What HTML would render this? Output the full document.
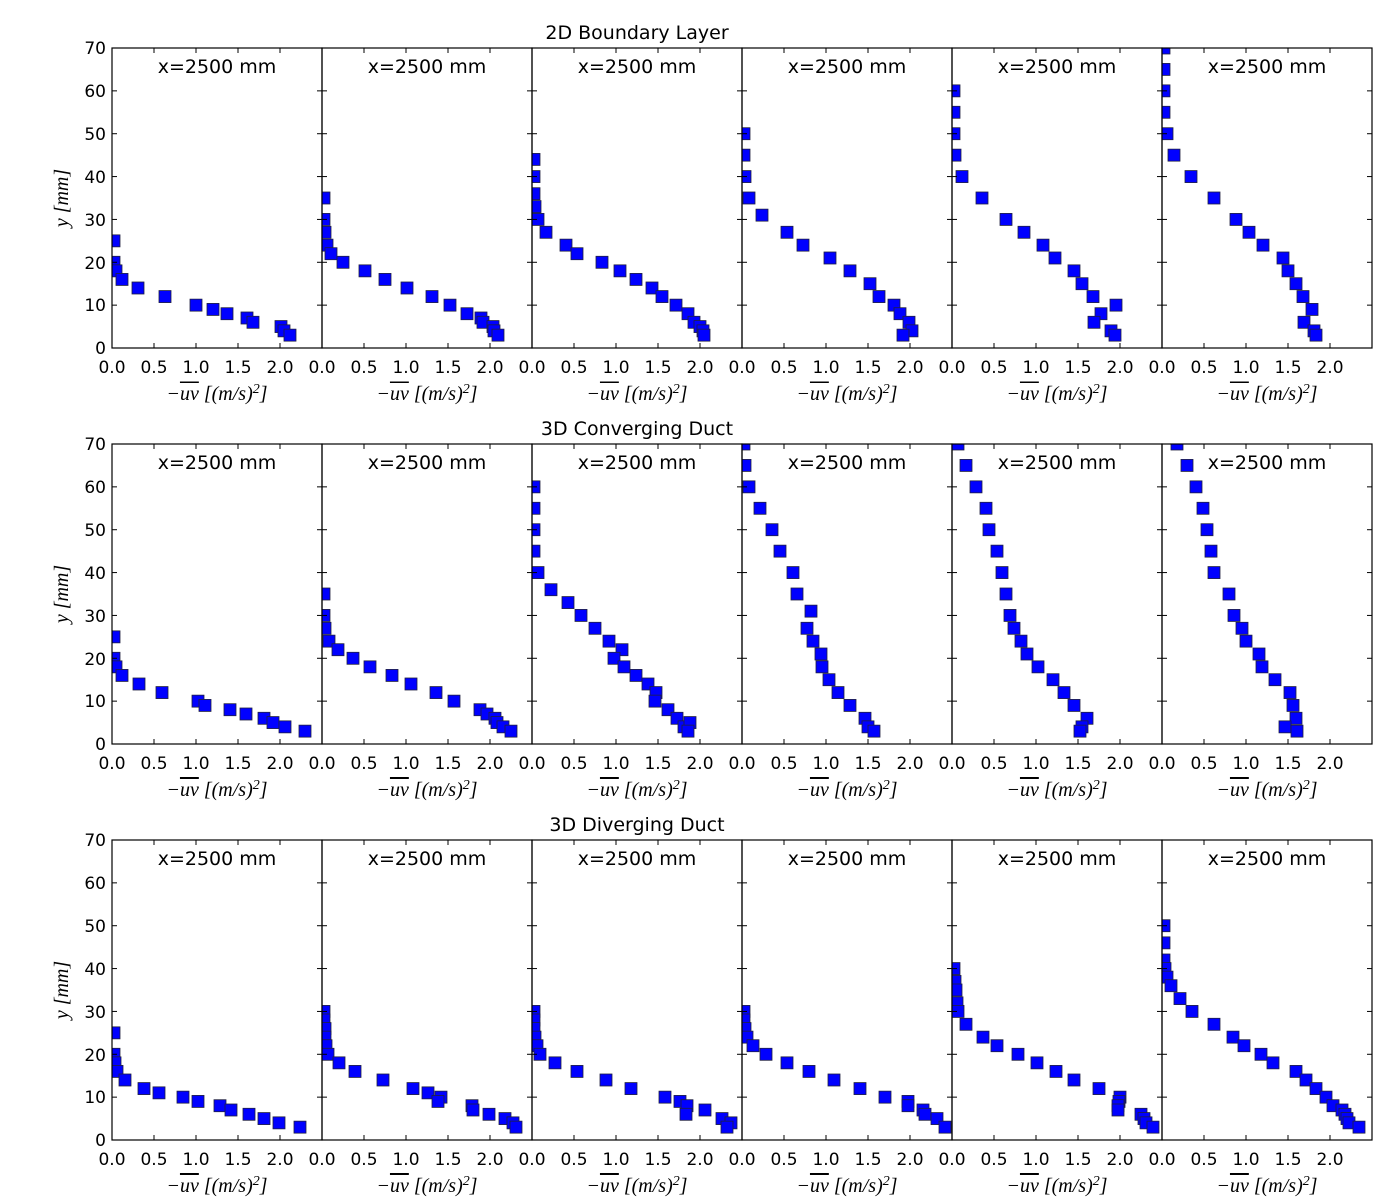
<!DOCTYPE html>
<html><head><meta charset="utf-8"><style>
body{margin:0;background:#fff;}
svg{display:block;font-family:"DejaVu Sans","Liberation Sans",sans-serif;}
.t{font-size:17px;fill:#000;}
.ti{font-size:19px;}
.lab{font-family:"Liberation Serif","DejaVu Serif",serif;font-size:20px;font-style:italic;}
</style></head><body>
<svg id="s" width="1400" height="1200" viewBox="0 0 1400 1200" xmlns="http://www.w3.org/2000/svg">
<rect width="1400" height="1200" fill="#fff"/>
<defs id="defs"></defs>
<g id="marks"></g>
<g class="ti" text-anchor="middle">
<text x="637" y="39">2D Boundary Layer</text>
<text x="637" y="435">3D Converging Duct</text>
<text x="637" y="831">3D Diverging Duct</text>
</g>
<g class="ti" text-anchor="middle">
<text x="217" y="73">x=2500 mm</text><text x="427" y="73">x=2500 mm</text><text x="637" y="73">x=2500 mm</text><text x="847" y="73">x=2500 mm</text><text x="1057" y="73">x=2500 mm</text><text x="1267" y="73">x=2500 mm</text>
<text x="217" y="469">x=2500 mm</text><text x="427" y="469">x=2500 mm</text><text x="637" y="469">x=2500 mm</text><text x="847" y="469">x=2500 mm</text><text x="1057" y="469">x=2500 mm</text><text x="1267" y="469">x=2500 mm</text>
<text x="217" y="865">x=2500 mm</text><text x="427" y="865">x=2500 mm</text><text x="637" y="865">x=2500 mm</text><text x="847" y="865">x=2500 mm</text><text x="1057" y="865">x=2500 mm</text><text x="1267" y="865">x=2500 mm</text>
</g>
<g class="t" text-anchor="end">
<text x="106" y="54">70</text><text x="106" y="97">60</text><text x="106" y="140">50</text><text x="106" y="183">40</text><text x="106" y="226">30</text><text x="106" y="269">20</text><text x="106" y="311">10</text><text x="106" y="354">0</text>
<text x="106" y="450">70</text><text x="106" y="493">60</text><text x="106" y="536">50</text><text x="106" y="579">40</text><text x="106" y="622">30</text><text x="106" y="665">20</text><text x="106" y="707">10</text><text x="106" y="750">0</text>
<text x="106" y="846">70</text><text x="106" y="889">60</text><text x="106" y="932">50</text><text x="106" y="975">40</text><text x="106" y="1018">30</text><text x="106" y="1061">20</text><text x="106" y="1103">10</text><text x="106" y="1146">0</text>
</g>
<g class="lab" text-anchor="middle">
<text transform="translate(68,198) rotate(-90)">y [mm]</text>
<text transform="translate(68,594) rotate(-90)">y [mm]</text>
<text transform="translate(68,990) rotate(-90)">y [mm]</text>
</g>
<g class="t" text-anchor="middle">
<g>
<text x="112" y="373">0.0</text><text x="154" y="373">0.5</text><text x="196" y="373">1.0</text><text x="238" y="373">1.5</text><text x="280" y="373">2.0</text>
<text x="322" y="373">0.0</text><text x="364" y="373">0.5</text><text x="406" y="373">1.0</text><text x="448" y="373">1.5</text><text x="490" y="373">2.0</text>
<text x="532" y="373">0.0</text><text x="574" y="373">0.5</text><text x="616" y="373">1.0</text><text x="658" y="373">1.5</text><text x="700" y="373">2.0</text>
<text x="742" y="373">0.0</text><text x="784" y="373">0.5</text><text x="826" y="373">1.0</text><text x="868" y="373">1.5</text><text x="910" y="373">2.0</text>
<text x="952" y="373">0.0</text><text x="994" y="373">0.5</text><text x="1036" y="373">1.0</text><text x="1078" y="373">1.5</text><text x="1120" y="373">2.0</text>
<text x="1162" y="373">0.0</text><text x="1204" y="373">0.5</text><text x="1246" y="373">1.0</text><text x="1288" y="373">1.5</text><text x="1330" y="373">2.0</text>
</g>
<g transform="translate(0,396)">
<text x="112" y="373">0.0</text><text x="154" y="373">0.5</text><text x="196" y="373">1.0</text><text x="238" y="373">1.5</text><text x="280" y="373">2.0</text>
<text x="322" y="373">0.0</text><text x="364" y="373">0.5</text><text x="406" y="373">1.0</text><text x="448" y="373">1.5</text><text x="490" y="373">2.0</text>
<text x="532" y="373">0.0</text><text x="574" y="373">0.5</text><text x="616" y="373">1.0</text><text x="658" y="373">1.5</text><text x="700" y="373">2.0</text>
<text x="742" y="373">0.0</text><text x="784" y="373">0.5</text><text x="826" y="373">1.0</text><text x="868" y="373">1.5</text><text x="910" y="373">2.0</text>
<text x="952" y="373">0.0</text><text x="994" y="373">0.5</text><text x="1036" y="373">1.0</text><text x="1078" y="373">1.5</text><text x="1120" y="373">2.0</text>
<text x="1162" y="373">0.0</text><text x="1204" y="373">0.5</text><text x="1246" y="373">1.0</text><text x="1288" y="373">1.5</text><text x="1330" y="373">2.0</text>
</g>
<g transform="translate(0,792)">
<text x="112" y="373">0.0</text><text x="154" y="373">0.5</text><text x="196" y="373">1.0</text><text x="238" y="373">1.5</text><text x="280" y="373">2.0</text>
<text x="322" y="373">0.0</text><text x="364" y="373">0.5</text><text x="406" y="373">1.0</text><text x="448" y="373">1.5</text><text x="490" y="373">2.0</text>
<text x="532" y="373">0.0</text><text x="574" y="373">0.5</text><text x="616" y="373">1.0</text><text x="658" y="373">1.5</text><text x="700" y="373">2.0</text>
<text x="742" y="373">0.0</text><text x="784" y="373">0.5</text><text x="826" y="373">1.0</text><text x="868" y="373">1.5</text><text x="910" y="373">2.0</text>
<text x="952" y="373">0.0</text><text x="994" y="373">0.5</text><text x="1036" y="373">1.0</text><text x="1078" y="373">1.5</text><text x="1120" y="373">2.0</text>
<text x="1162" y="373">0.0</text><text x="1204" y="373">0.5</text><text x="1246" y="373">1.0</text><text x="1288" y="373">1.5</text><text x="1330" y="373">2.0</text>
</g>
</g>
<g class="lab" text-anchor="middle">
<g>
<text x="217" y="400">−<tspan text-decoration="overline">uv</tspan> [(m/s)<tspan dy="-7" font-size="14">2</tspan><tspan dy="7">]</tspan></text>
<text x="427" y="400">−<tspan text-decoration="overline">uv</tspan> [(m/s)<tspan dy="-7" font-size="14">2</tspan><tspan dy="7">]</tspan></text>
<text x="637" y="400">−<tspan text-decoration="overline">uv</tspan> [(m/s)<tspan dy="-7" font-size="14">2</tspan><tspan dy="7">]</tspan></text>
<text x="847" y="400">−<tspan text-decoration="overline">uv</tspan> [(m/s)<tspan dy="-7" font-size="14">2</tspan><tspan dy="7">]</tspan></text>
<text x="1057" y="400">−<tspan text-decoration="overline">uv</tspan> [(m/s)<tspan dy="-7" font-size="14">2</tspan><tspan dy="7">]</tspan></text>
<text x="1267" y="400">−<tspan text-decoration="overline">uv</tspan> [(m/s)<tspan dy="-7" font-size="14">2</tspan><tspan dy="7">]</tspan></text>
</g>
<g transform="translate(0,396)">
<text x="217" y="400">−<tspan text-decoration="overline">uv</tspan> [(m/s)<tspan dy="-7" font-size="14">2</tspan><tspan dy="7">]</tspan></text>
<text x="427" y="400">−<tspan text-decoration="overline">uv</tspan> [(m/s)<tspan dy="-7" font-size="14">2</tspan><tspan dy="7">]</tspan></text>
<text x="637" y="400">−<tspan text-decoration="overline">uv</tspan> [(m/s)<tspan dy="-7" font-size="14">2</tspan><tspan dy="7">]</tspan></text>
<text x="847" y="400">−<tspan text-decoration="overline">uv</tspan> [(m/s)<tspan dy="-7" font-size="14">2</tspan><tspan dy="7">]</tspan></text>
<text x="1057" y="400">−<tspan text-decoration="overline">uv</tspan> [(m/s)<tspan dy="-7" font-size="14">2</tspan><tspan dy="7">]</tspan></text>
<text x="1267" y="400">−<tspan text-decoration="overline">uv</tspan> [(m/s)<tspan dy="-7" font-size="14">2</tspan><tspan dy="7">]</tspan></text>
</g>
<g transform="translate(0,792)">
<text x="217" y="400">−<tspan text-decoration="overline">uv</tspan> [(m/s)<tspan dy="-7" font-size="14">2</tspan><tspan dy="7">]</tspan></text>
<text x="427" y="400">−<tspan text-decoration="overline">uv</tspan> [(m/s)<tspan dy="-7" font-size="14">2</tspan><tspan dy="7">]</tspan></text>
<text x="637" y="400">−<tspan text-decoration="overline">uv</tspan> [(m/s)<tspan dy="-7" font-size="14">2</tspan><tspan dy="7">]</tspan></text>
<text x="847" y="400">−<tspan text-decoration="overline">uv</tspan> [(m/s)<tspan dy="-7" font-size="14">2</tspan><tspan dy="7">]</tspan></text>
<text x="1057" y="400">−<tspan text-decoration="overline">uv</tspan> [(m/s)<tspan dy="-7" font-size="14">2</tspan><tspan dy="7">]</tspan></text>
<text x="1267" y="400">−<tspan text-decoration="overline">uv</tspan> [(m/s)<tspan dy="-7" font-size="14">2</tspan><tspan dy="7">]</tspan></text>
</g>
</g>
</svg>
<script>
var NS="http://www.w3.org/2000/svg",g=document.getElementById("marks"),defs=document.getElementById("defs");
function el(n,a,p){var e=document.createElementNS(NS,n);for(var k in a)e.setAttribute(k,a[k]);(p||g).appendChild(e);return e;}
var tops=[48,444,840],k=300/70;
var D=[
[[2,2,4,10,26,53,84,101,115,135,141,169,172,178],[25,20,18,16,14,12,10,9,8,7,6,5,4,3]],
[[2,2,3,5,9,21,43,63,85,110,128,145,159,161,171,172,176],[35,30,27,24,22,20,18,16,14,12,10,8,7,6,5,4,3]],
[[2,2,2,3,6,14,34,45,70,88,104,120,130,144,156,162,168,171,172],[44,40,36,33,30,27,24,22,20,18,16,14,12,10,8,6,5,4,3]],
[[2,2,3,7,20,45,61,88,108,128,137,152,158,167,170,161],[50,45,40,35,31,27,24,21,18,15,12,10,8,6,4,3]],
[[2,2,2,3,10,30,54,72,91,103,122,130,141,164,149,142,159,163],[60,55,50,45,40,35,30,27,24,21,18,15,12,10,8,6,4,3]],
[[2,2,2,2,5,12,29,52,74,87,101,121,126,134,141,150,142,152,154],[70,65,60,55,50,45,40,35,30,27,24,21,18,15,12,9,6,4,3]],
[[2,2,4,10,27,50,86,93,118,134,152,161,173,193],[25,20,18,16,14,12,10,9,8,7,6,5,4,3]],
[[2,2,3,7,16,31,48,70,89,114,132,158,165,173,175,181,189],[35,30,27,24,22,20,18,16,14,12,10,8,7,6,5,4,3]],
[[2,2,2,2,6,19,36,49,63,77,90,82,92,104,116,124,123,136,145,152,158,156],[60,55,50,45,40,36,33,30,27,24,22,20,18,16,14,12,10,8,6,4,5,3]],
[[2,3,7,18,30,38,51,55,69,65,71,79,80,87,96,108,123,126,132],[70,65,60,55,50,45,40,35,31,27,24,21,18,15,12,9,6,4,3]],
[[6,14,24,34,37,45,50,54,58,62,69,75,86,101,112,122,135,130,128],[70,65,60,55,50,45,40,35,30,27,24,21,18,15,12,9,6,4,3]],
[[15,25,34,41,45,49,52,67,72,80,84,97,100,113,128,131,134,123,135],[70,65,60,55,50,45,40,35,30,27,24,21,18,15,12,9,6,4,3]],
[[2,2,3,5,13,32,47,71,86,108,119,137,152,167,188],[25,20,18,16,14,12,11,10,9,8,7,6,5,4,3]],
[[2,2,3,3,4,6,17,33,61,91,106,119,116,150,151,167,183,191,194],[30,28,26,24,22,20,18,16,14,12,11,10,9,8,7,6,5,4,3]],
[[2,2,2,3,5,8,23,45,74,99,133,148,155,173,154,190,199,195],[30,28,26,24,22,20,18,16,14,12,10,9,8,7,6,5,4,3]],
[[2,2,3,5,11,24,45,67,92,118,143,166,166,181,183,195,203],[30,28,26,24,22,20,18,16,14,12,10,9,8,7,6,5,3]],
[[2,3,4,5,6,14,31,45,66,85,104,122,147,168,167,166,166,189,192,194,201],[40,37,35,32,30,27,24,22,20,18,16,14,12,10,9,8,7,6,5,4,3]],
[[2,2,2,3,5,9,18,30,52,71,82,99,111,134,144,154,164,171,180,183,185,187,197],[50,46,42,40,38,36,33,30,27,24,22,20,18,16,14,12,10,8,7,6,5,4,3]]
];
for(var r=0;r<3;r++)for(var c=0;c<6;c++){
 var x0=112+210*c,t=tops[r],b=t+300,d=D[r*6+c],id="c"+r+c;
 var cp=el("clipPath",{id:id},defs);el("rect",{x:x0,y:t,width:210,height:300},cp);
 var pg=el("g",{"clip-path":"url(#"+id+")"});
 for(var j=0;j<d[0].length;j++){el("rect",{x:x0+d[0][j]-6,y:b-d[1][j]*k-6,width:12,height:12,fill:"#0000ff",stroke:"#202040","stroke-width":0.8},pg);}
 el("rect",{x:x0,y:t,width:210,height:300,fill:"none",stroke:"#000","stroke-width":1.2});
 for(var v=0;v<=70;v+=10){var y=b-v*k;el("line",{x1:x0,y1:y,x2:x0+5,y2:y,stroke:"#000"});el("line",{x1:x0+210,y1:y,x2:x0+205,y2:y,stroke:"#000"});}
 for(var i=1;i<5;i++){var x=x0+42*i;el("line",{x1:x,y1:b,x2:x,y2:b-5,stroke:"#000"});el("line",{x1:x,y1:t,x2:x,y2:t+5,stroke:"#000"});}
}
</script>
</body></html>
